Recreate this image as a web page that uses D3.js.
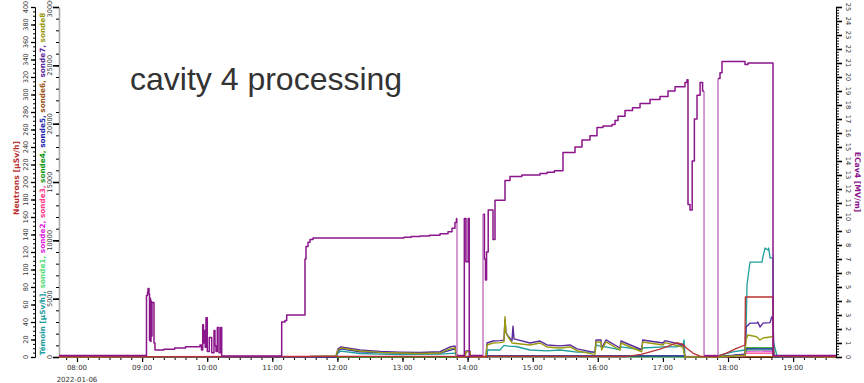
<!DOCTYPE html>
<html><head><meta charset="utf-8">
<script src="https://cdn.jsdelivr.net/npm/d3@7"></script>
<style>
html,body{margin:0;padding:0;background:#fff;}
svg{display:block;font-family:"DejaVu Sans",sans-serif;}
</style></head><body>
<svg id="c" width="864" height="383"></svg>
<script>
// ---------------- data ----------------
const DAY = "2022-01-06";
const timeDomain = ["07:43:25", "19:39:32"];
const neutronTicks = d3.range(0, 401, 20);
const sondeTicks = [0, 5000, 10000, 15000, 20000, 25000, 30000];
const ecavTicks = d3.range(0, 26, 1);
const titleText = "cavity 4 processing";

// ECav4 [MV/m] (right axis), stepped
const ecav4 = [
["07:43:25",0.1],["09:03:08",0.1],["09:04:03",4.4],["09:05:00",4.6],["09:05:26",4.9],["09:06:22",4.5],
["09:06:50",1.2],["09:07:18",4.2],["09:07:45",1.1],["09:08:13",4.0],["09:08:40",1.5],["09:09:08",3.9],
["09:10:03",3.9],["09:10:58",1.0],["09:11:53",0.5],["09:20:00",0.56],["09:30:00",0.64],["09:40:00",0.74],
["09:53:22",0.86],["09:54:45",0.5],["09:55:51",2.3],["09:56:35",1.0],["09:57:30",1.9],["09:58:09",0.7],
["09:58:54",2.8],["10:00:06",0.4],["10:01:57",1.4],["10:04:10",0.3],["10:06:17",1.9],["10:07:10",0.8],
["10:08:08",0.4],["10:09:20",2.1],["10:10:54",0.3],["10:12:28",2.1],["10:13:23",0.07],
["11:08:40",2.5],["11:11:43",2.6],["11:13:17",3.0],["11:30:08",7.0],["11:31:03",7.9],["11:32:54",8.2],
["11:34:45",8.4],["11:37:31",8.5],["13:01:23",8.55],["13:08:00",8.6],["13:16:08",8.65],["13:25:00",8.7],
["13:34:34",8.8],["13:41:57",8.95],["13:45:37",9.2],["13:48:22",9.6],["13:49:45",9.9],
["13:50:13",0.1],["13:57:00",9.9],["13:58:30",6.8],["14:00:30",9.9],["14:01:30",0.1],
["14:14:13",10.2],["14:15:30",7.0],["14:16:30",5.5],["14:17:30",7.5],["14:19:00",10.5],
["14:23:25",8.4],["14:25:16",11.2],["14:32:38",11.2],["14:34:28",12.6],["14:39:05",12.9],
["14:50:00",13.0],["15:06:46",13.1],["15:13:12",13.2],["15:20:00",13.3],["15:27:55",14.6],
["15:39:00",15.0],["15:45:26",15.5],["15:52:49",15.8],["15:59:16",16.4],["16:04:48",16.5],
["16:13:06",16.6],["16:15:52",16.9],["16:18:38",17.2],["16:25:05",17.6],["16:32:00",17.8],
["16:38:55",18.1],["16:48:07",18.4],["16:57:20",18.6],["17:04:43",19.0],["17:11:10",19.3],
["17:20:23",19.6],["17:22:13",19.8],["17:23:08",10.9],["17:24:59",10.5],["17:27:00",14.0],
["17:29:00",17.0],["17:31:26",18.7],["17:34:17",19.6],["17:36:35",19.0],["17:37:55",0.1],
["17:50:47",19.9],["17:52:38",20.3],["17:54:29",21.1],["18:15:40",20.9],["18:18:25",21.0],
["18:41:29",0.1],["19:39:32",0.1]
];
// transitions of ECav4 drawn in the light tone
const ecavBreaks = ["13:50:13","14:14:13","17:37:55","17:50:47"];

// Neutrons [µSv/h] (outer left axis)
const neutrons = [
["07:43:25",0.5],["16:26:54",0.6],["16:40:00",3],["16:57:20",9.1],["17:05:00",12.5],["17:12:42",16.3],
["17:18:30",14.5],["17:21:55",9.9],["17:28:00",4.2],["17:34:15",1.0],["17:49:34",0.4],["17:58:00",4.2],
["18:08:00",9.9],["18:15:40",13.7],["18:16:00",68.6],["18:41:29",68.6],["18:41:45",1.0],["19:39:32",0.5]
];

// Témoin and sondes [µSv/h] (inner left axis)
const temoin = [
["07:43:25",0],["11:58:43",0],["12:00:33",350],["12:03:19",510],["12:20:50",300],["12:57:42",200],
["13:34:34",250],["13:48:23",340],["13:50:13",0],["14:17:53",0],["14:18:30",600],["14:29:52",600],
["14:33:32",1000],["14:37:14",940],["14:44:36",900],["14:57:30",600],["15:13:10",530],["15:25:10",600],
["15:40:50",420],["15:57:26",430],["15:58:20",1030],["16:02:57",900],["16:07:33",860],["16:20:27",620],
["16:21:22",860],["16:40:28",620],["16:41:23",770],["17:00:06",860],["17:12:42",860],["17:18:30",1050],
["17:19:30",1460],["17:20:20",0],["17:49:34",0],["17:52:38",170],["18:04:37",430],["18:15:40",600],
["18:16:36",1800],["18:17:30",6170],["18:20:16",8140],["18:31:21",8140],["18:32:00",8490],["18:34:07",9340],
["18:36:53",9170],["18:37:30",9340],["18:38:44",8490],["18:41:29",8490],["18:41:50",1290],["18:44:55",170],
["18:46:00",0],["19:39:32",0]
];
const sonde1 = [
["07:43:25",0],["17:49:34",0],["18:15:40",150],["18:16:36",600],["18:41:29",620],["18:42:25",0],["19:39:32",0]
];
const sonde2 = [
["07:43:25",0],["17:49:34",0],["18:15:40",120],["18:16:36",510],["18:41:29",520],["18:42:25",0],["19:39:32",0]
];
const sonde3 = [
["07:43:25",0],["12:00:33",60],["13:50:13",40],["17:20:20",60],["17:49:34",0],["18:15:40",100],["18:16:36",340],
["18:41:29",340],["18:42:25",0],["19:39:32",0]
];
const sonde4 = [
["07:43:25",0],["14:17:53",0],["14:18:30",80],["17:20:20",80],["17:21:00",0],["17:49:34",0],["18:15:40",200],
["18:16:36",770],["18:41:29",790],["18:42:25",0],["19:39:32",0]
];
const sonde5 = [
["07:43:25",0],["11:58:43",0],["12:00:33",500],["12:03:19",700],["12:20:50",450],["12:57:42",330],
["13:34:34",330],["13:48:23",700],["13:50:13",0],["14:17:53",0],["14:18:30",100],["17:20:20",100],
["17:21:00",0],["17:49:34",0],["18:15:40",250],["18:16:36",690],["18:41:29",700],["18:42:25",0],["19:39:32",0]
];
const sonde6 = [
["07:43:25",20],["19:39:32",20]
];
const sonde7 = [
["07:43:25",0],["11:34:45",40],["11:58:43",100],["12:00:33",700],["12:03:19",860],["12:20:50",600],
["12:39:16",480],["12:57:42",420],["13:16:08",380],["13:34:34",450],["13:39:10",650],["13:43:47",860],
["13:48:23",950],["13:50:13",0],["13:57:36",0],["13:58:31",520],["14:02:13",520],["14:02:40",0],
["14:16:57",0],["14:17:53",1200],["14:23:25",1370],["14:29:52",1400],["14:33:32",1450],["14:34:28",3200],
["14:35:23",2100],["14:37:14",1800],["14:40:55",1400],["14:41:50",2650],["14:42:45",1550],["14:57:30",1200],
["15:06:43",1370],["15:13:10",1030],["15:25:10",950],["15:34:23",1030],["15:40:50",700],["15:55:35",420],
["15:57:26",430],["15:58:20",1460],["16:02:57",1460],["16:03:30",770],["16:07:33",1460],["16:20:27",770],
["16:21:22",1370],["16:40:28",620],["16:41:23",1460],["17:00:06",1200],["17:01:57",1400],["17:18:30",1030],
["17:20:20",0],["17:49:34",0],["18:04:37",120],["18:15:40",250],["18:16:36",2570],["18:20:16",2900],
["18:26:25",2900],["18:27:30",3000],["18:29:30",2570],["18:32:16",2900],["18:38:44",2950],["18:40:16",3430],
["18:41:29",3430],["18:42:25",30],["19:39:32",0]
];
const sonde8 = [
["07:43:25",0],["11:34:45",40],["11:58:43",100],["12:00:33",600],["12:03:19",770],["12:20:50",510],
["12:39:16",400],["12:57:42",340],["13:16:08",300],["13:34:34",340],["13:39:10",520],["13:43:47",700],
["13:48:23",770],["13:50:13",0],["13:57:36",0],["13:58:31",450],["14:02:13",450],["14:02:40",0],
["14:16:57",0],["14:17:53",1030],["14:23:25",1200],["14:29:52",1230],["14:33:32",1300],["14:34:28",3450],
["14:35:23",2060],["14:37:14",1740],["14:40:55",1200],["14:57:30",1030],["15:06:43",1200],["15:13:10",860],
["15:25:10",770],["15:34:23",860],["15:40:50",540],["15:55:35",250],["15:57:26",260],["15:58:20",1290],
["16:02:57",1290],["16:03:30",600],["16:07:33",1290],["16:20:27",600],["16:21:22",1200],["16:40:28",450],
["16:41:23",1290],["17:00:06",1030],["17:01:57",1230],["17:18:30",860],["17:20:20",0],["17:49:34",0],
["18:04:37",80],["18:15:40",150],["18:16:36",1460],["18:18:25",1890],["18:26:25",1740],["18:29:30",1460],
["18:32:16",1630],["18:40:16",1740],["18:41:29",1740],["18:42:25",30],["19:39:32",0]
];

const colors = {
  neutrons:"#b83232", temoin:"#1f9e9e", sonde1:"#55dd77", sonde2:"#e022e0", sonde3:"#ff3a8c",
  sonde4:"#119911", sonde5:"#2323b0", sonde6:"#a0561a", sonde7:"#5b2a9e", sonde8:"#9a9a10",
  ecav:"#8b168b", ecavLight:"#c47ac4"
};

// ---------------- drawing ----------------
const parse = d3.timeParse("%Y-%m-%d %H:%M:%S");
const T = s => parse(DAY + " " + s);
const L = 59, R = 836, TOP = 7, BOT = 357;

const x = d3.scaleTime().domain(timeDomain.map(T)).range([L, R]);
const yN = d3.scaleLinear().domain([0, 400]).range([BOT, TOP]);
const yS = d3.scaleLinear().domain([0, 30000]).range([BOT, TOP]);
const yE = d3.scaleLinear().domain([0, 25]).range([BOT, TOP]);

const svg = d3.select("#c");
const tickFont = 6.6;

// title
svg.append("text").attr("x", 130).attr("y", 90)
  .attr("font-family", "'Liberation Sans', Arial, sans-serif").attr("font-size", 32)
  .attr("fill", "#333").text(titleText);

// axes helper
function axisG(tx, ty, axis, strokeW) {
  const g = svg.append("g").attr("transform", `translate(${tx},${ty})`).call(axis);
  g.selectAll("text").remove();
  g.select(".domain").attr("stroke", "#000");
  g.selectAll(".tick line").attr("stroke", "#000").attr("stroke-width", strokeW);
  return g;
}

// x axis
axisG(0, BOT, d3.axisBottom(x).ticks(d3.timeMinute.every(10)).tickSize(3).tickSizeOuter(0), 1)
  .select(".domain").attr("stroke", "#222");
const hours = x.ticks(d3.timeHour.every(1));
axisG(0, BOT, d3.axisBottom(x).tickValues(hours).tickSize(5).tickSizeOuter(0), 1.2);
svg.selectAll(".xl").data(hours).join("text")
  .attr("x", d => x(d)).attr("y", 370).attr("text-anchor", "middle")
  .attr("font-size", 7).attr("fill", "#333").text(d3.timeFormat("%H:%M"));
svg.append("text").attr("x", x(hours[0])).attr("y", 382).attr("text-anchor", "middle")
  .attr("font-size", 7).attr("fill", "#333").text(DAY);

// outer left axis (Neutrons)
axisG(35, 0, d3.axisLeft(yN).tickValues(d3.range(0, 401, 5)).tickSize(2).tickSizeOuter(0), 1);
axisG(35, 0, d3.axisLeft(yN).tickValues(neutronTicks).tickSize(4).tickSizeOuter(0), 1.3);
svg.selectAll(".nl").data(neutronTicks).join("text")
  .attr("transform", d => `translate(26,${yN(d)}) rotate(-90)`)
  .attr("text-anchor", "middle").attr("dy", "0.35em")
  .attr("font-size", tickFont).attr("fill", "#333").text(d => d);

// inner left axis (Témoin, sondes)
const gS1 = axisG(L, 0, d3.axisLeft(yS).tickValues(d3.range(0, 30001, 1000)).tickSize(3).tickSizeOuter(0), 1);
gS1.select(".domain").attr("stroke", "#aaa").attr("stroke-width", 1.6);
axisG(L, 0, d3.axisLeft(yS).tickValues(sondeTicks).tickSize(6).tickSizeOuter(0), 1.6)
  .select(".domain").attr("stroke", "none");
svg.selectAll(".sl").data(sondeTicks).join("text")
  .attr("transform", d => `translate(50,${yS(d)}) rotate(-90)`)
  .attr("text-anchor", "middle").attr("dy", "0.35em")
  .attr("font-size", tickFont).attr("fill", "#333").text(d => d);

// right axis (ECav4)
axisG(R, 0, d3.axisRight(yE).tickValues(d3.range(0, 25.01, 0.2)).tickSize(3).tickSizeOuter(0), 1);
axisG(R, 0, d3.axisRight(yE).tickValues(ecavTicks).tickSize(6).tickSizeOuter(0), 1.6);
svg.selectAll(".el").data(ecavTicks).join("text")
  .attr("transform", d => `translate(848,${yE(d)}) rotate(90)`)
  .attr("text-anchor", "middle").attr("dy", "0.35em")
  .attr("font-size", tickFont).attr("fill", "#333").text(d => d);

// axis titles
svg.append("text").attr("transform", `translate(16,${(TOP + BOT) / 2 - 4}) rotate(-90)`)
  .attr("text-anchor", "middle").attr("dy", "0.35em").attr("font-size", 7.7).attr("font-weight", "bold")
  .attr("fill", colors.neutrons).text("Neutrons [µSv/h]");

const sondeTitle = [
  ["Témoin [µSv/h], ", colors.temoin], ["sonde1, ", colors.sonde1], ["sonde2, ", colors.sonde2],
  ["sonde3, ", colors.sonde3], ["sonde4, ", colors.sonde4], ["sonde5, ", colors.sonde5],
  ["sonde6, ", colors.sonde6], ["sonde7, ", colors.sonde7], ["sonde8", colors.sonde8]
];
const st = svg.append("text").attr("transform", `translate(42,${(TOP + BOT) / 2 + 2}) rotate(-90)`)
  .attr("text-anchor", "middle").attr("dy", "0.35em").attr("font-size", 7.3).attr("font-weight", "bold");
st.selectAll("tspan").data(sondeTitle).join("tspan").attr("fill", d => d[1]).text(d => d[0]);

svg.append("text").attr("transform", `translate(858,${(TOP + BOT) / 2}) rotate(90)`)
  .attr("text-anchor", "middle").attr("dy", "0.35em").attr("font-size", 7.7).attr("font-weight", "bold")
  .attr("fill", colors.ecav).text("ECav4 [MV/m]");

// series
const plot = svg.append("g");
function drawSeries(data, y, color, w, curve) {
  const line = d3.line().x(d => x(T(d[0]))).y(d => y(d[1])).curve(curve || d3.curveLinear);
  plot.append("path").datum(data).attr("d", line).attr("fill", "none")
    .attr("stroke", color).attr("stroke-width", w).attr("stroke-linejoin", "round");
}
drawSeries(sonde6, yS, colors.sonde6, 1.3);
drawSeries(sonde3, yS, colors.sonde3, 1.3);
drawSeries(sonde2, yS, colors.sonde2, 1.3);
drawSeries(sonde1, yS, colors.sonde1, 1.3);
drawSeries(sonde4, yS, colors.sonde4, 1.3);
drawSeries(temoin, yS, colors.temoin, 1.3);
drawSeries(sonde5, yS, colors.sonde5, 1.3);
drawSeries(sonde7, yS, colors.sonde7, 1.4);
drawSeries(sonde8, yS, colors.sonde8, 1.4);
drawSeries(neutrons, yN, colors.neutrons, 1.3);

// ECav4: split at light transitions
const breakSet = new Set(ecavBreaks);
let run = [];
const runs = [], connectors = [];
ecav4.forEach((p, i) => {
  if (i > 0 && breakSet.has(p[0])) {
    const prev = ecav4[i - 1];
    run.push([p[0], prev[1]]);
    runs.push(run);
    connectors.push([[p[0], prev[1]], [p[0], p[1]]]);
    run = [];
  }
  run.push(p);
});
runs.push(run);
connectors.forEach(c => drawSeries(c, yE, colors.ecavLight, 1.5));
runs.forEach(r => drawSeries(r, yE, colors.ecav, 1.5, d3.curveStepAfter));
</script>
</body></html>
